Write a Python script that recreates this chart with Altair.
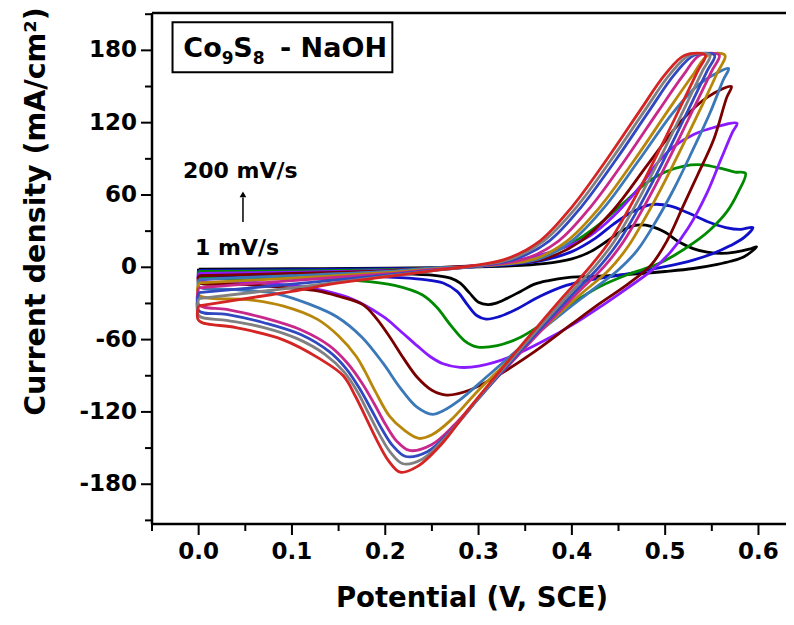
import altair as alt
import pandas as pd

# ---------------- data ----------------
series_names = ["1 mV/s", "2 mV/s", "5 mV/s", "10 mV/s", "20 mV/s", "30 mV/s",
                "50 mV/s", "75 mV/s", "100 mV/s", "150 mV/s", "200 mV/s"]
series_colors = ["#000000", "#1010c8", "#008a00", "#8a1aff", "#7a0000", "#3a78b8",
                 "#b8860b", "#c8288c", "#3048c0", "#808080", "#d42424"]
series_widths = [2.8, 2.8, 2.8, 2.8, 2.8, 2.8, 2.8, 2.8, 2.8, 4.6, 3.8]

cv_1 = [(0.0,-1.5),(0.1,-1.2),(0.2,-0.8),(0.28,0),(0.33,1),(0.37,3),(0.40,7),(0.42,13),(0.44,23),(0.455,31),(0.47,35),(0.485,34),(0.50,29),(0.515,21),(0.53,15.5),(0.545,12.5),(0.56,11.5),(0.575,12.5),(0.59,15),(0.598,17),
        (0.585,9),(0.57,5),(0.556,2.5),(0.53,-1),(0.50,-3.5),(0.47,-5.5),(0.44,-7),(0.41,-7.8),(0.395,-8.5),(0.375,-11),(0.36,-14),(0.345,-20),(0.33,-26),(0.318,-30),(0.31,-31),(0.30,-29),(0.29,-21),(0.28,-13),(0.27,-9),(0.25,-6.5),(0.2,-5),(0.1,-4),(0.0,-3)]
cv_2 = [(0.0,-2.5),(0.1,-2),(0.2,-1.2),(0.28,0),(0.33,2),(0.37,6),(0.40,13),(0.425,24),(0.445,36),(0.465,46),(0.485,52),(0.505,51),(0.525,45),(0.545,38),(0.565,33),(0.58,31.5),(0.594,33),
        (0.585,25),(0.57,18),(0.55,11),(0.53,6),(0.50,0.5),(0.47,-4),(0.44,-8),(0.415,-11),(0.394,-15),(0.366,-24),(0.34,-35),(0.322,-41),(0.308,-43),(0.298,-40),(0.288,-31),(0.277,-20),(0.262,-13),(0.24,-10),(0.2,-8),(0.1,-6),(0.0,-5)]
cv_5 = [(0.0,-3.5),(0.1,-3),(0.2,-2),(0.28,0),(0.33,3),(0.37,10),(0.40,20),(0.43,36),(0.455,53),(0.48,70),(0.50,79),(0.52,84),(0.54,85),(0.56,82),(0.575,79),(0.586,78),
        (0.578,62),(0.566,46),(0.548,31),(0.53,20),(0.51,10),(0.49,2),(0.46,-6),(0.43,-16),(0.40,-30),(0.37,-46),(0.345,-58),(0.32,-65),(0.298,-66),(0.285,-61),(0.27,-48),(0.255,-33),(0.24,-23),(0.21,-15),(0.17,-11),(0.1,-9),(0.0,-7)]
cv_10 = [(0.0,-5),(0.1,-4),(0.2,-2.5),(0.27,0),(0.32,3),(0.36,9),(0.39,16),(0.419,26),(0.444,42),(0.473,67),(0.49,85),(0.509,100),(0.53,110),(0.552,116),(0.577,119.5),
         (0.572,112),(0.56,90),(0.545,62),(0.525,33),(0.505,12),(0.485,-3),(0.46,-17),(0.43,-33),(0.40,-48),(0.37,-61),(0.335,-74),(0.30,-82),(0.28,-83),(0.262,-80),(0.248,-74),(0.234,-65),(0.215,-52),(0.198,-41),(0.16,-25),(0.119,-17),(0.06,-12.5),(0.0,-10)]
cv_20 = [(0.0,-7),(0.1,-5),(0.2,-3),(0.26,0),(0.31,2),(0.37,7),(0.41,22),(0.445,48),(0.482,86),(0.518,122),(0.545,141),(0.571,150),
         (0.566,141),(0.552,106),(0.535,77),(0.52,52),(0.502,22),(0.485,2),(0.46,-14),(0.43,-30),(0.40,-47),(0.36,-70),(0.32,-90),(0.29,-102),(0.266,-106),(0.25,-102),(0.234,-91),(0.22,-76),(0.205,-58),(0.19,-42),(0.176,-31),(0.15,-24),(0.127,-19.5),(0.08,-16),(0.04,-14),(0.0,-12.5)]
cv_30 = [(0.0,-10),(0.1,-7),(0.2,-3.5),(0.25,-0.5),(0.30,1),(0.365,7),(0.40,22),(0.435,50),(0.472,89),(0.508,128),(0.535,151),(0.555,161),(0.568,165),
         (0.562,155),(0.548,128),(0.53,98),(0.51,66),(0.49,38),(0.47,14),(0.45,-2),(0.42,-20),(0.39,-38),(0.35,-63),(0.31,-90),(0.28,-110),(0.262,-119),(0.251,-122),(0.234,-116),(0.216,-100),(0.198,-80),(0.175,-58),(0.148,-41),(0.12,-31),(0.084,-22),(0.04,-18.5),(0.0,-16)]
cv_50 = [(0.0,-13),(0.1,-9),(0.2,-4.5),(0.25,-1.5),(0.30,1),(0.36,7),(0.395,22),(0.43,50),(0.467,89),(0.503,130),(0.53,160),(0.546,176),(0.564,176),
         (0.555,160),(0.54,135),(0.52,103),(0.50,72),(0.48,43),(0.46,17),(0.44,-2),(0.41,-22),(0.38,-43),(0.34,-72),(0.30,-102),(0.27,-127),(0.25,-139),(0.236,-142),(0.22,-135),(0.205,-124),(0.19,-104),(0.178,-86),(0.169,-74),(0.15,-57),(0.127,-43),(0.09,-32),(0.055,-27),(0.0,-23)]
cv_75 = [(0.0,-17),(0.1,-11),(0.2,-5.5),(0.25,-2),(0.30,1),(0.35,7),(0.386,22),(0.42,50),(0.457,89),(0.493,130),(0.52,160),(0.537,176),(0.558,176),
         (0.55,163),(0.535,139),(0.515,107),(0.495,76),(0.475,47),(0.455,21),(0.435,1),(0.405,-22),(0.375,-46),(0.34,-75),(0.305,-104),(0.275,-130),(0.25,-147),(0.226,-152),(0.212,-144),(0.2,-130),(0.188,-113),(0.175,-96),(0.16,-80),(0.14,-65),(0.11,-52),(0.07,-42),(0.03,-35),(0.0,-31)]
cv_100 = [(0.0,-21),(0.1,-14),(0.2,-6.5),(0.25,-2.5),(0.30,1),(0.34,7),(0.376,22),(0.41,50),(0.447,89),(0.483,130),(0.51,160),(0.531,176),(0.553,176),
          (0.545,163),(0.53,139),(0.51,107),(0.49,76),(0.47,47),(0.45,21),(0.43,1),(0.40,-23),(0.37,-48),(0.335,-78),(0.30,-109),(0.27,-136),(0.245,-153),(0.222,-157),(0.208,-148),(0.197,-135),(0.185,-118),(0.172,-100),(0.158,-84),(0.14,-70),(0.11,-56),(0.07,-46),(0.03,-39),(0.0,-36)]
cv_150 = [(0.0,-26),(0.1,-17),(0.2,-7.5),(0.25,-3),(0.30,1.5),(0.335,7),(0.37,22),(0.405,50),(0.442,89),(0.478,130),(0.505,160),(0.526,176),(0.548,176),
          (0.54,163),(0.525,139),(0.505,107),(0.485,76),(0.465,47),(0.445,21),(0.425,1),(0.395,-24),(0.365,-50),(0.33,-81),(0.295,-113),(0.265,-141),(0.24,-159),(0.219,-163),(0.205,-153),(0.194,-139),(0.182,-121),(0.17,-103),(0.156,-87),(0.135,-72),(0.105,-59),(0.07,-50),(0.03,-44),(0.0,-40)]
cv_200 = [(0.0,-32),(0.05,-26),(0.1,-20),(0.15,-13),(0.2,-8),(0.25,-3),(0.30,2),(0.33,7),(0.366,22),(0.40,50),(0.437,89),(0.473,130),(0.50,160),(0.521,176),(0.543,176),
          (0.535,163),(0.52,139),(0.50,107),(0.48,76),(0.46,47),(0.44,21),(0.42,1),(0.39,-25),(0.36,-52),(0.325,-84),(0.29,-117),(0.26,-147),(0.235,-165),(0.216,-170),(0.203,-160),(0.192,-145),(0.18,-126),(0.168,-107),(0.155,-90),(0.13,-76),(0.09,-60),(0.04,-50),(0.0,-44)]
curves = [cv_1, cv_2, cv_5, cv_10, cv_20, cv_30, cv_50, cv_75, cv_100, cv_150, cv_200]

x_major_ticks = [0.0, 0.1, 0.2, 0.3, 0.4, 0.5, 0.6]
x_tick_labels = ["0.0", "0.1", "0.2", "0.3", "0.4", "0.5", "0.6"]
x_minor_ticks = [-0.05, 0.05, 0.15, 0.25, 0.35, 0.45, 0.55]
y_major_ticks = [-180, -120, -60, 0, 60, 120, 180]
y_tick_labels = ["-180", "-120", "-60", "0", "60", "120", "180"]
y_minor_ticks = [-210, -150, -90, -30, 30, 90, 150, 210]
x_domain = [-0.05, 0.6295]
y_domain = [-213, 211]
x_title = "Potential (V, SCE)"
y_title = "Current density (mA/cm\u00b2)"

# annotations (data coordinates)
box_corners = {"x": -0.028, "x2": 0.2076, "y": 161.8, "y2": 203.3}
formula_big = [{"x": -0.0164, "y": 174.7, "t": "Co"}, {"x": 0.0370, "y": 174.7, "t": "S"},
               {"x": 0.0872, "y": 174.7, "t": "- NaOH"}]
formula_sub = [{"x": 0.0247, "y": 169.0, "t": "9"}, {"x": 0.0580, "y": 169.0, "t": "8"}]
rate_labels = [{"x": -0.0168, "y": 74.1, "t": "200 mV/s"}, {"x": -0.0039, "y": 10.2, "t": "1 mV/s"}]
arrow = {"x": 0.0475, "y": 37.6, "y2": 58.0, "head": 60.5}

FONT = "DejaVu Sans"
W, H = 634, 511

rows = []
for name, pts in zip(series_names, curves):
    closed = pts + [pts[0]]
    for k, (e, i) in enumerate(closed):
        rows.append({"series": name, "E": e, "I": i, "k": k})
df = pd.DataFrame(rows)

xscale = alt.Scale(domain=x_domain, nice=False, zero=False)
yscale = alt.Scale(domain=y_domain, nice=False, zero=False)


def X(field):
    return alt.X(field, type="quantitative", scale=xscale, axis=None)


def Y(field):
    return alt.Y(field, type="quantitative", scale=yscale, axis=None)


one = pd.DataFrame({"v": [0]})

lines = alt.Chart(df).mark_line(interpolate="catmull-rom").encode(
    x=X("E"), y=Y("I"),
    color=alt.Color("series:N", scale=alt.Scale(domain=series_names, range=series_colors), legend=None),
    strokeWidth=alt.StrokeWidth("series:N", scale=alt.Scale(domain=series_names, range=series_widths), legend=None),
    order=alt.Order("k:Q"),
    detail="series:N",
)

# frame (left, bottom, top)
frame_left = alt.Chart(one).mark_rule(color="black", strokeWidth=2.5).encode(
    x=alt.value(0), y=alt.value(0), y2=alt.value(H))
frame_bottom = alt.Chart(one).mark_rule(color="black", strokeWidth=2.5).encode(
    y=alt.value(H), x=alt.value(0), x2=alt.value(W))
frame_top = alt.Chart(one).mark_rule(color="black", strokeWidth=2.5).encode(
    y=alt.value(0), x=alt.value(0), x2=alt.value(W))

# ticks
xt_major = alt.Chart(pd.DataFrame({"v": x_major_ticks})).mark_rule(color="black", strokeWidth=2).encode(
    x=X("v"), y=alt.value(H), y2=alt.value(H + 11))
xt_minor = alt.Chart(pd.DataFrame({"v": x_minor_ticks})).mark_rule(color="black", strokeWidth=2).encode(
    x=X("v"), y=alt.value(H), y2=alt.value(H + 7))
yt_major = alt.Chart(pd.DataFrame({"v": y_major_ticks})).mark_rule(color="black", strokeWidth=2).encode(
    y=Y("v"), x=alt.value(-11), x2=alt.value(0))
yt_minor = alt.Chart(pd.DataFrame({"v": y_minor_ticks})).mark_rule(color="black", strokeWidth=2).encode(
    y=Y("v"), x=alt.value(-7), x2=alt.value(0))

# tick labels
xl = alt.Chart(pd.DataFrame({"v": x_major_ticks, "t": x_tick_labels})).mark_text(
    align="center", baseline="top", font=FONT, fontSize=23, fontWeight="bold", color="black"
).encode(x=X("v"), y=alt.value(H + 17), text="t:N")
yl = alt.Chart(pd.DataFrame({"v": y_major_ticks, "t": y_tick_labels})).mark_text(
    align="right", baseline="middle", font=FONT, fontSize=23, fontWeight="bold", color="black"
).encode(y=Y("v"), x=alt.value(-15), text="t:N")

# axis titles
xtitle = alt.Chart(pd.DataFrame({"t": [x_title]})).mark_text(
    align="center", baseline="alphabetic", font=FONT, fontSize=27.5, fontWeight="bold", color="black"
).encode(x=alt.value(320), y=alt.value(594), text="t:N")
ytitle = alt.Chart(pd.DataFrame({"t": [y_title]})).mark_text(
    align="center", baseline="alphabetic", angle=270, font=FONT, fontSize=28.5, fontWeight="bold", color="black"
).encode(x=alt.value(-107), y=alt.value(198.5), text="t:N")

box = alt.Chart(pd.DataFrame([box_corners])).mark_rect(
    fill="white", fillOpacity=0, stroke="black", strokeWidth=2
).encode(x=X("x"), x2="x2:Q", y=Y("y"), y2="y2:Q")

big_text = alt.Chart(pd.DataFrame(formula_big)).mark_text(
    align="left", baseline="alphabetic", font=FONT, fontSize=27, fontWeight="bold", color="black"
).encode(x=X("x"), y=Y("y"), text="t:N")

sub_text = alt.Chart(pd.DataFrame(formula_sub)).mark_text(
    align="left", baseline="alphabetic", font=FONT, fontSize=17, fontWeight="bold", color="black"
).encode(x=X("x"), y=Y("y"), text="t:N")

rate_text = alt.Chart(pd.DataFrame(rate_labels)).mark_text(
    align="left", baseline="alphabetic", font=FONT, fontSize=22, fontWeight="bold", color="black"
).encode(x=X("x"), y=Y("y"), text="t:N")

arrow_df = pd.DataFrame([arrow])
arrow_line = alt.Chart(arrow_df).mark_rule(color="black", strokeWidth=1.5).encode(
    x=X("x"), y=Y("y"), y2="y2:Q")
arrow_head = alt.Chart(arrow_df).mark_point(
    shape="triangle-up", filled=True, color="black", size=45, opacity=1
).encode(x=X("x"), y=Y("head"))

chart = alt.layer(
    lines, frame_left, frame_bottom, frame_top, xt_major, xt_minor, yt_major, yt_minor,
    xl, yl, xtitle, ytitle, box, big_text, sub_text, rate_text, arrow_line, arrow_head
).properties(
    width=W, height=H,
    background="white",
    autosize=alt.AutoSizeParams(type="none"),
    padding={"left": 144, "top": 5, "right": 0, "bottom": 95},
).configure_view(stroke=None)

chart.save("out.html", embed_options={"renderer": "svg", "actions": False})
